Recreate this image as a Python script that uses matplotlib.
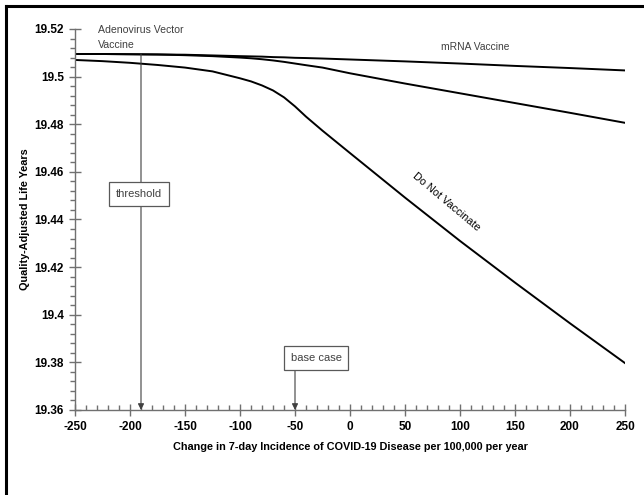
import matplotlib
matplotlib.use("Agg")
import matplotlib.pyplot as plt
from matplotlib.lines import Line2D
from matplotlib.ticker import MultipleLocator

plt.rcParams['font.family'] = ['Liberation Sans', 'DejaVu Sans']
plt.rcParams['axes.unicode_minus'] = False

# change in 7-day incidence per 100,000
x_vals = [-250, -225, -200, -175, -150, -125, -100, -90, -80, -70, -60, -50, -40, -25,
          0, 50, 100, 150, 200, 250]

# QALYs
mrna = [19.5095, 19.5095, 19.5094, 19.5093, 19.5092, 19.5089, 19.5086, 19.5085, 19.5084,
        19.5082, 19.5081, 19.5079, 19.5078, 19.5076,
        19.5072, 19.5064, 19.5055, 19.5045, 19.5036, 19.5026]
adeno = [19.5095, 19.5095, 19.5094, 19.5093, 19.5090, 19.5086, 19.5080, 19.5077, 19.5073,
         19.5068, 19.5062, 19.5055, 19.5048, 19.5038,
         19.5014, 19.4971, 19.4930, 19.4889, 19.4848, 19.4806]
no_vacc = [19.5070, 19.5065, 19.5058, 19.5049, 19.5038, 19.5022, 19.4993, 19.4980, 19.4963,
           19.4942, 19.4913, 19.4875, 19.4832, 19.4773,
           19.4679, 19.4492, 19.4310, 19.4135, 19.3964, 19.3797]

threshold_x = -190
base_case_x = -50

fig = plt.figure(figsize=(6.44, 4.95), dpi=100)
ax = fig.add_axes([75/644, 85/495, 550/644, 381/495])

ax.plot(x_vals, mrna, color='black', lw=1.4)
ax.plot(x_vals, adeno, color='black', lw=1.4)
ax.plot(x_vals, no_vacc, color='black', lw=1.4)

ax.set_xlim(-250, 250)
ax.set_ylim(19.36, 19.52)

for s in ['top', 'right']:
    ax.spines[s].set_visible(False)
for s in ['left', 'bottom']:
    ax.spines[s].set_color('#707070')
    ax.spines[s].set_linewidth(1.0)

ax.xaxis.set_major_locator(MultipleLocator(50))
ax.xaxis.set_minor_locator(MultipleLocator(10))
ax.yaxis.set_major_locator(MultipleLocator(0.02))
ax.yaxis.set_minor_locator(MultipleLocator(0.004))
ax.yaxis.set_major_formatter(plt.FuncFormatter(lambda v, p: '%g' % round(v, 2)))

ax.tick_params(axis='x', which='major', direction='inout', length=8, width=1, color='#707070',
               labelsize=8.5, pad=4)
ax.tick_params(axis='x', which='minor', direction='in', length=3.5, width=1, color='#707070')
ax.tick_params(axis='y', which='major', direction='inout', length=8, width=1, color='#707070',
               labelsize=8.5, pad=4)
ax.tick_params(axis='y', which='minor', direction='out', length=3.5, width=1, color='#707070')
for lab in ax.get_xticklabels() + ax.get_yticklabels():
    lab.set_fontweight('bold')

ax.set_xlabel('Change in 7-day Incidence of COVID-19 Disease per 100,000 per year',
              fontsize=7.8, fontweight='bold')
ax.set_ylabel('Quality-Adjusted Life Years', fontsize=7.8, fontweight='bold')
ax.yaxis.set_label_coords(-0.082, 0.5)
ax.xaxis.set_label_coords(0.5, -0.085)

# curve labels
ax.text(-229, 19.5196, 'Adenovirus Vector', fontsize=7.6, color='#404040', va='center')
ax.text(-229, 19.5134, 'Vaccine', fontsize=7.6, color='#404040', va='center')
ax.text(114, 19.5124, 'mRNA Vaccine', fontsize=7.4, color='#404040', va='center', ha='center')
ax.text(88, 19.4473, 'Do Not Vaccinate', fontsize=7.8, color='black', va='center', ha='center',
        rotation=-40, rotation_mode='anchor')

# threshold and base case arrows
ax.annotate('', xy=(threshold_x, 19.36), xytext=(threshold_x, 19.5095),
            arrowprops=dict(arrowstyle='-|>', color='#404040', lw=0.8,
                            mutation_scale=9, shrinkA=0, shrinkB=0))
ax.text(-191.8, 19.4507, 'threshold', fontsize=8, color='#404040', ha='center', va='center',
        bbox=dict(boxstyle='square,pad=0.6', fc='white', ec='#595959', lw=0.9))

ax.annotate('', xy=(base_case_x, 19.36), xytext=(base_case_x, 19.3768),
            arrowprops=dict(arrowstyle='-|>', color='#404040', lw=0.8,
                            mutation_scale=9, shrinkA=0, shrinkB=0))
ax.text(-30.9, 19.3818, 'base case', fontsize=8, color='#404040', ha='center', va='center',
        bbox=dict(boxstyle='square,pad=0.6', fc='white', ec='#595959', lw=0.9))

# frame lines along top and left edge of the figure
fig.add_artist(Line2D([6/644, 1], [1 - 6/495, 1 - 6/495], color='black', lw=2.2,
                      transform=fig.transFigure))
fig.add_artist(Line2D([6/644, 6/644], [0, 1 - 6/495], color='black', lw=2.2,
                      transform=fig.transFigure))

fig.savefig('out.png', dpi=100)
